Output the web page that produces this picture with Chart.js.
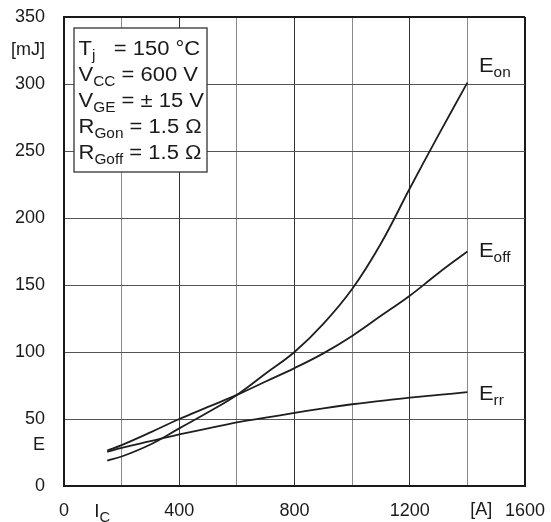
<!DOCTYPE html>
<html>
<head>
<meta charset="utf-8">
<script src="https://cdn.jsdelivr.net/npm/chart.js@4/dist/chart.umd.min.js"></script>
<style>
  html, body { margin: 0; padding: 0; background: #fff; }
  #wrap { width: 551px; height: 522px; position: relative; }
</style>
</head>
<body>
<div id="wrap"><canvas id="c" width="551" height="522"></canvas></div>
<script>
// ---- data ----
const currentA = [150, 200, 300, 400, 500, 600, 700, 800, 900, 1000, 1100, 1200, 1300, 1400];
const eOn  = [19, 22, 31, 43, 55, 68, 84, 100, 121, 147, 181, 222, 262, 301];
const eOff = [26.5, 30.5, 40, 50, 59, 68, 78, 88, 99, 112, 127, 142, 159, 175];
const eRr  = [25.5, 28.5, 33.5, 38.5, 43, 47.5, 51, 54.5, 58, 61, 63.5, 66, 68, 70];
const xTickLabels = { 0: '0', 400: '400', 800: '800', 1200: '1200', 1600: '1600' };
const yTickLabels = [0, 50, 100, 150, 200, 250, 300, 350];
const conditions = [
  [['T', 0], ['j', 1], ['   = 150 °C', 0]],
  [['V', 0], ['CC', 1], [' = 600 V', 0]],
  [['V', 0], ['GE', 1], [' = ± 15 V', 0]],
  [['R', 0], ['Gon', 1], [' = 1.5 Ω', 0]],
  [['R', 0], ['Goff', 1], [' = 1.5 Ω', 0]]
];
const curveLabels = [
  { main: 'E', sub: 'on', series: 'eOn' },
  { main: 'E', sub: 'off', series: 'eOff' },
  { main: 'E', sub: 'rr', series: 'eRr' }
];

const FONT = '"Liberation Sans", Arial, Helvetica, sans-serif';
const toPts = arr => currentA.map((x, i) => ({ x, y: arr[i] }));

function drawRuns(ctx, x, baseline, runs, size, subSize, sx) {
  ctx.save();
  ctx.translate(x, baseline);
  ctx.scale(sx, 1);
  let cx = 0;
  ctx.textBaseline = 'alphabetic';
  ctx.textAlign = 'left';
  for (const [t, sub] of runs) {
    ctx.font = (sub ? subSize : size) + 'px ' + FONT;
    ctx.fillText(t, cx, sub ? 5 : 0);
    cx += ctx.measureText(t).width;
  }
  ctx.restore();
}

const textPlugin = {
  id: 'texts',
  afterDraw(chart) {
    const ctx = chart.ctx;
    const xs = chart.scales.x, ys = chart.scales.y;
    // condition box
    ctx.save();
    ctx.fillStyle = '#fff';
    ctx.fillRect(74, 28, 133, 144);
    ctx.strokeStyle = '#333';
    ctx.lineWidth = 1.3;
    ctx.strokeRect(74, 28, 133, 144);
    ctx.restore();
    ctx.fillStyle = '#1a1a1a';
    conditions.forEach((runs, i) => {
      drawRuns(ctx, 78.5, 54.5 + i * 26.1, runs, 20, 14, 1.1);
    });
    // curve labels
    const ends = { eOn: eOn[eOn.length - 1], eOff: eOff[eOff.length - 1], eRr: eRr[eRr.length - 1] };
    const offs = { eOn: -11, eOff: 5, eRr: 8 };
    curveLabels.forEach(l => {
      const yb = ys.getPixelForValue(ends[l.series]) + offs[l.series];
      drawRuns(ctx, xs.getPixelForValue(1440), yb, [[l.main, 0], [l.sub, 1]], 20, 14, 1.1);
    });
    // axis unit / symbol labels
    ctx.font = '18px ' + FONT;
    ctx.textAlign = 'right';
    ctx.textBaseline = 'middle';
    ctx.fillText('E', 45, ys.getPixelForValue(30.5));
    ctx.fillText('[mJ]', 45, ys.getPixelForValue(325.5));
    drawRuns(ctx, xs.getPixelForValue(105), 517, [['I', 0], ['C', 1]], 18, 14, 1.05);
    ctx.font = '18px ' + FONT;
    ctx.textAlign = 'center';
    ctx.textBaseline = 'middle';
    ctx.fillText('[A]', xs.getPixelForValue(1448), 510);
  }
};

const lineStyle = { borderColor: '#1e1e1e', borderWidth: 1.8, pointRadius: 0, fill: false, tension: 0.4 };

new Chart(document.getElementById('c'), {
  type: 'line',
  data: {
    datasets: [
      Object.assign({ label: 'Eon', data: toPts(eOn) }, lineStyle),
      Object.assign({ label: 'Eoff', data: toPts(eOff) }, lineStyle),
      Object.assign({ label: 'Err', data: toPts(eRr) }, lineStyle)
    ]
  },
  options: {
    responsive: false,
    animation: false,
    layout: { padding: { top: 17, right: 26, left: 0, bottom: 0 } },
    plugins: { legend: { display: false }, tooltip: { enabled: false } },
    scales: {
      x: {
        type: 'linear', min: 0, max: 1600,
        afterFit(s) { s.height = 36; s.paddingLeft = 0; s.paddingRight = 0; },
        ticks: {
          stepSize: 200, autoSkip: false, maxRotation: 0, padding: 14,
          color: '#1a1a1a', font: { size: 18, family: FONT },
          callback: v => (xTickLabels[v] !== undefined ? xTickLabels[v] : '')
        },
        grid: {
          drawTicks: false,
          color: c => {
            const v = c.tick ? c.tick.value : 0;
            if (v === 1600 || v === 0) return '#1a1a1a';
            return (v / 200) % 2 === 1 ? '#8a8a8a' : '#333';
          },
          lineWidth: c => (c.tick && c.tick.value === 1600 ? 2 : 1)
        },
        border: { display: true, color: '#1a1a1a', width: 2 }
      },
      y: {
        type: 'linear', min: 0, max: 350,
        afterFit(s) { s.width = 64; s.paddingTop = 0; s.paddingBottom = 0; },
        ticks: {
          stepSize: 50, autoSkip: false, padding: 19,
          color: '#1a1a1a', font: { size: 18, family: FONT },
          callback: v => (yTickLabels.includes(v) ? String(v) : '')
        },
        grid: {
          drawTicks: false,
          color: c => (c.tick && c.tick.value === 350 ? '#1a1a1a' : '#555'),
          lineWidth: c => (c.tick && c.tick.value === 350 ? 2 : 1)
        },
        border: { display: true, color: '#1a1a1a', width: 2 }
      }
    }
  },
  plugins: [textPlugin]
});
</script>
</body>
</html>
